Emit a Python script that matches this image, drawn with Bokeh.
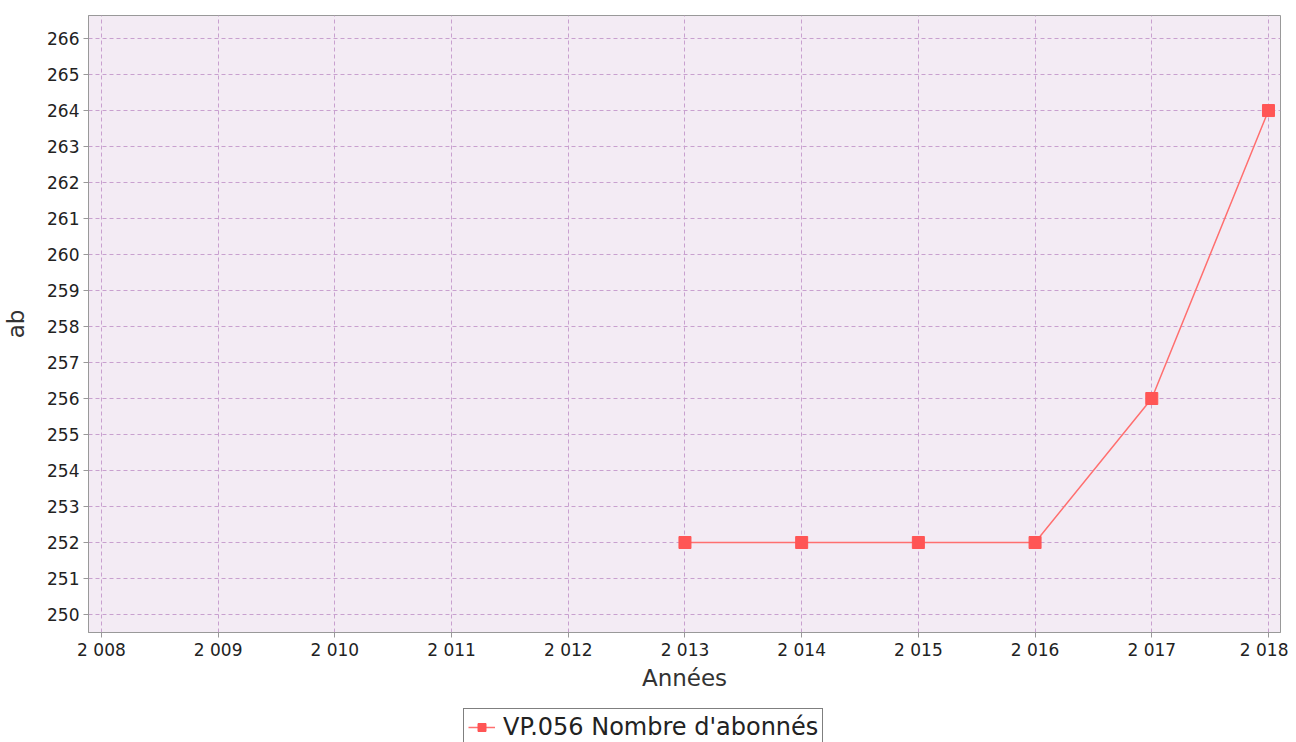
from bokeh.plotting import figure
from bokeh.layouts import column
from bokeh.models import Range1d, FixedTicker, Legend, LegendItem
from bokeh.embed import file_html
from bokeh.resources import INLINE

years = [2013, 2014, 2015, 2016, 2017, 2018]
values = [252, 252, 252, 252, 256, 264]
x_ticks = [2008, 2009, 2010, 2011, 2012, 2013, 2014, 2015, 2016, 2017, 2018]
x_labels = ["2 008", "2 009", "2 010", "2 011", "2 012", "2 013", "2 014", "2 015", "2 016", "2 017", "2 018"]
y_ticks = list(range(250, 267))
series_name = "VP.056 Nombre d'abonnés"

FONT = "DejaVu Sans"
LINE_COLOR = "#FF6F6F"
MARK_COLOR = "#FF5555"

p = figure(frame_width=1192, frame_height=617, output_backend="svg", toolbar_location=None,
           x_range=Range1d(2007.889, 2018.103), y_range=Range1d(249.5, 266.64),
           min_border_left=88, min_border_right=8, min_border_top=15,
           min_border_bottom=70)

p.background_fill_color = "#F3EBF4"
p.border_fill_color = "white"
p.outline_line_color = "#999999"
p.outline_line_width = 1

p.line(years, values, line_color=LINE_COLOR, line_width=1.5)
p.scatter(years, values, marker="square", size=12, fill_color=MARK_COLOR, line_color=MARK_COLOR)

for ax in (p.xaxis[0], p.yaxis[0]):
    ax.axis_line_color = "#999999"
    ax.major_tick_line_color = "#999999"
    ax.major_tick_out = 5
    ax.major_tick_in = 0
    ax.minor_tick_line_color = None
    ax.major_label_text_font = FONT
    ax.major_label_text_font_size = "17px"
    ax.major_label_text_color = "#222222"
    ax.axis_label_text_font = FONT
    ax.axis_label_text_font_size = "23px"
    ax.axis_label_text_font_style = "normal"
    ax.axis_label_text_color = "#333333"

p.xaxis.ticker = FixedTicker(ticks=x_ticks)
p.xaxis.major_label_overrides = {t: l for t, l in zip(x_ticks, x_labels)}
p.xaxis.axis_label = "Années"
p.xaxis.major_label_standoff = 2
p.xaxis.axis_label_standoff = 2
p.yaxis.ticker = FixedTicker(ticks=y_ticks)
p.yaxis.axis_label = "ab"
p.yaxis.major_label_standoff = 4
p.yaxis.axis_label_standoff = 15

for g in (p.xgrid[0], p.ygrid[0]):
    g.grid_line_color = "#C8A0CF"
    g.grid_line_dash = "4 3"
    g.grid_line_width = 1

# legend strip below the chart (its glyphs fall outside its own ranges, so only the legend shows)
p2 = figure(width=1288, height=40, output_backend="svg", toolbar_location=None,
            x_range=Range1d(0, 1), y_range=Range1d(0, 1),
            x_axis_location=None, y_axis_location=None,
            min_border_left=0, min_border_right=0, min_border_top=0, min_border_bottom=0)
p2.outline_line_color = None
p2.xgrid.visible = False
p2.ygrid.visible = False
p2.background_fill_color = "white"
l2 = p2.line(years, values, line_color=LINE_COLOR, line_width=1.5)
s2 = p2.scatter(years, values, marker="square", size=12, fill_color=MARK_COLOR, line_color=MARK_COLOR)

legend = Legend(items=[LegendItem(label=series_name, renderers=[l2, s2])],
                orientation="horizontal", location=(375, -4),
                label_text_font=FONT, label_text_font_size="24px",
                label_text_color="#222222",
                border_line_color="black", border_line_width=1.5,
                background_fill_color="white", background_fill_alpha=1,
                glyph_width=27, glyph_height=20,
                padding=4, spacing=2, margin=0, label_standoff=8)
p2.add_layout(legend, "center")

open("out.html", "w").write(file_html(column(p, p2, spacing=0), INLINE))
